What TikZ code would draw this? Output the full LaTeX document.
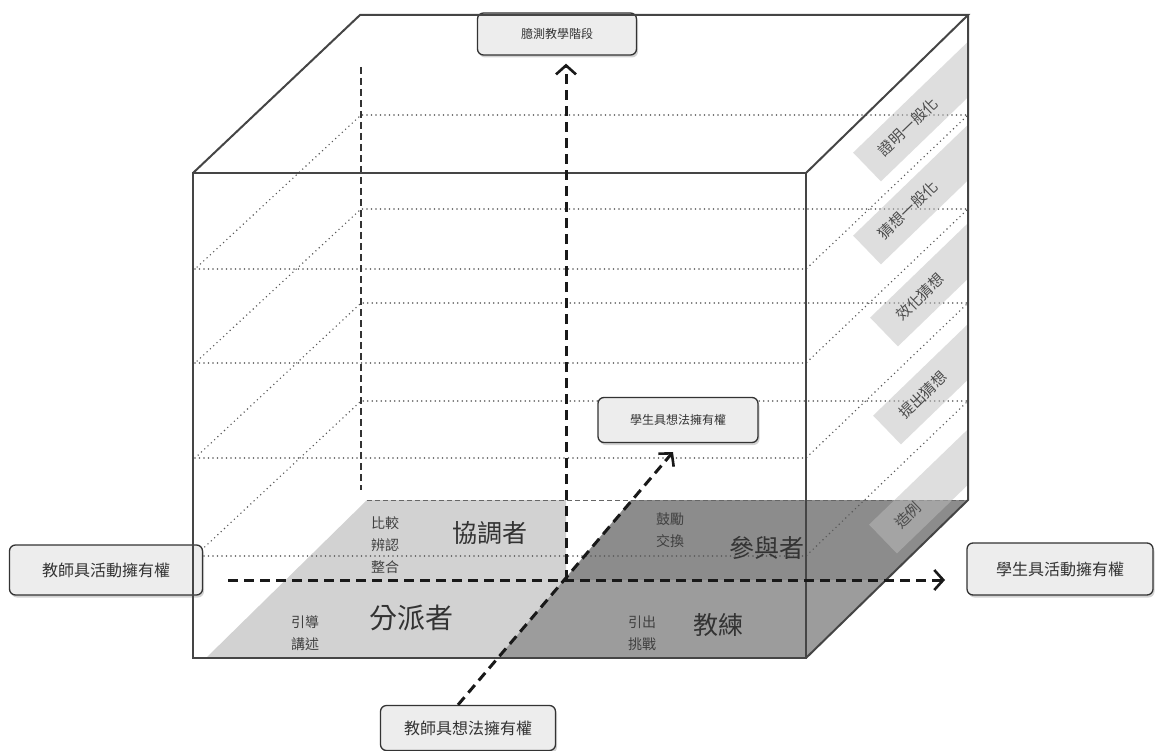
\documentclass[tikz,border=0pt]{standalone}
\usepackage{fontspec}
\newfontfamily\cjk{Noto Sans CJK TC}
\usepackage{tikz}
\usetikzlibrary{arrows.meta, shadows, calc}
\definecolor{boxgray}{HTML}{EDEDED}
\definecolor{floorlight}{HTML}{D2D2D2}
\definecolor{floordark}{HTML}{8C8C8C}
\definecolor{floormid}{HTML}{9C9C9C}
\definecolor{edgegray}{HTML}{454545}
\definecolor{bandgray}{HTML}{BDBDBD}

\begin{document}
\begin{tikzpicture}[
    x=1pt, y=-1pt,
    ownbox/.style={rectangle, rounded corners=6pt, draw=black!80, line width=1.3pt, fill=boxgray, drop shadow={opacity=0.35, shadow xshift=1.5pt, shadow yshift=-2.5pt}, font=\cjk\fontsize{16}{16}\selectfont, text=black!80},
    smallbox/.style={ownbox, font=\cjk\fontsize{12}{12}\selectfont},
    cubeedge/.style={draw=edgegray, line width=2pt},
    plane/.style={draw=black!65, line width=1.6pt, line cap=round, dash pattern=on 0pt off 4.5pt},
    axis/.style={black!90, line width=3pt, dash pattern=on 10pt off 6pt, -{Straight Barb[length=9pt, width=20pt, line width=2.6pt]}},
    role/.style={font=\cjk\fontsize{25}{25}\selectfont, text=black!80},
    verb/.style={font=\cjk\fontsize{14}{22}\selectfont, text=black!75, align=center},
    bandfill/.style={fill=bandgray, fill opacity=0.5},
    sidelabel/.style={font=\cjk\fontsize{15}{15}\selectfont, text=black!70, rotate=44, inner sep=1pt}
]
\useasboundingbox (0,0) rectangle (1155,751);

% Floor of the cube
\fill[floorlight] (367,500) -- (566,500) -- (566,580) -- (498,658) -- (206,658) -- cycle;
\fill[floordark] (631,500) -- (968,500) -- (886,580) -- (564,580) -- cycle;
\fill[floormid] (564,580) -- (886,580) -- (806,658) -- (498,658) -- cycle;

% Dotted layers
\draw[plane] (195,269) -- (806,269) -- (968,115) -- (361,115) -- cycle;
\draw[plane] (195,363) -- (806,363) -- (968,209) -- (361,209) -- cycle;
\draw[plane] (195,458) -- (806,458) -- (968,303) -- (361,303) -- cycle;
\draw[plane] (195,556) -- (806,556) -- (968,401) -- (361,401) -- cycle;
\draw[draw=black!60, line width=1pt, dash pattern=on 5pt off 3pt] (367,500) -- (968,500);

% Bands on the right face
\begin{scope}
\clip (806,173) -- (968,15) -- (968,500) -- (806,658) -- cycle;
\fill[bandfill, rotate around={44:(867,167)}] (867,147) rectangle ++(200,40);
\fill[bandfill, rotate around={44:(867,250)}] (867,230) rectangle ++(200,40);
\fill[bandfill, rotate around={44:(884,332)}] (884,312) rectangle ++(200,40);
\fill[bandfill, rotate around={44:(887,430)}] (887,410) rectangle ++(200,40);
\fill[bandfill, rotate around={44:(883,539)}] (883,519) rectangle ++(200,40);
\end{scope}

% Side labels
\node[sidelabel] (l5) at (908,127) {證明一般化};
\node[sidelabel] (l4) at (908,210) {猜想一般化};
\node[sidelabel] (l3) at (920,297) {效化猜想};
\node[sidelabel] (l2) at (923,395) {提出猜想};
\node[sidelabel] (l1) at (908,515) {造例};

% Hidden back edge
\draw[black!80, line width=2pt, dash pattern=on 7pt off 4pt] (361,67) -- (361,490);

% Ownership boxes
\node[smallbox, minimum width=159pt, minimum height=42pt] (phase) at (557,34) {臆測教學階段};
\node[smallbox, minimum width=160pt, minimum height=45pt] (sidea) at (678,420) {學生具想法擁有權};
\node[ownbox, minimum width=193pt, minimum height=50pt] (tact) at (106,570) {教師具活動擁有權};
\node[ownbox, minimum width=186pt, minimum height=52pt] (sact) at (1060,569) {學生具活動擁有權};
\node[ownbox, minimum width=175pt, minimum height=45pt] (tidea) at (468,728) {教師具想法擁有權};

% Cube edges
\draw[cubeedge] (193,173) rectangle (806,658);
\draw[cubeedge] (193,173) -- (360,15) -- (968,15) -- (806,173);
\draw[cubeedge] (968,15) -- (968,500) -- (806,658);

% Roles on the floor
\node[verb] (cmp) at (385,545) {比較\\辨認\\整合};
\node[role] (coord) at (490,533) {協調者};
\node[verb] (enc) at (670,530) {鼓勵\\交換};
\node[role] (part) at (767,548) {參與者};
\node[verb] (guide) at (305,633) {引導\\講述};
\node[role, font=\cjk\fontsize{28}{28}\selectfont] (assign) at (411,618) {分派者};
\node[verb] (elicit) at (642,633) {引出\\挑戰};
\node[role] (coach) at (718,625) {教練};

% Axes
\coordinate (o) at (566,580);
\coordinate (hl) at (228,580);
\coordinate (hr) at (945,580);
\coordinate (dtip) at (673,452);
\draw[axis] (hl) -- (hr);
\draw[axis] (o) -- ($(o |- phase.south)+(0,8)$);
\draw[axis] ([xshift=-10pt]tidea.north) -- (dtip);

\end{tikzpicture}
\end{document}
